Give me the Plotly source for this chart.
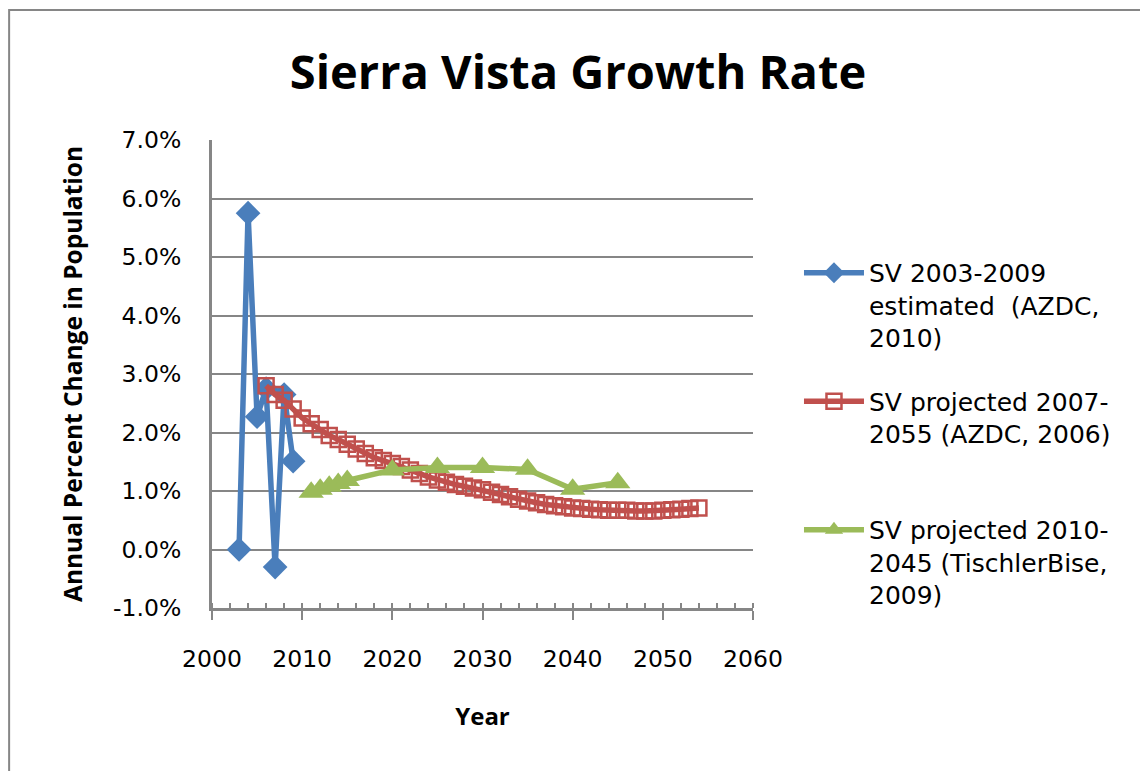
import plotly.graph_objects as go

# data (annual percent change, %)
est_years = [2003, 2004, 2005, 2006, 2007, 2008, 2009]
est_vals = [0.0, 5.75, 2.27, 2.75, -0.30, 2.65, 1.51]

azdc_years = list(range(2006, 2055))
azdc_vals = [
    2.80, 2.65, 2.55, 2.40, 2.25, 2.15, 2.05, 1.95, 1.88, 1.80,
    1.72, 1.64, 1.57, 1.52, 1.47, 1.42, 1.36, 1.30, 1.24, 1.19,
    1.15, 1.11, 1.08, 1.05, 1.02, 0.98, 0.94, 0.90, 0.86, 0.83,
    0.80, 0.77, 0.75, 0.73, 0.71, 0.70, 0.69, 0.68, 0.67, 0.67,
    0.67, 0.66, 0.66, 0.66, 0.67, 0.68, 0.69, 0.70, 0.71,
]

tb_years = [2011, 2012, 2013, 2014, 2015, 2020, 2025, 2030, 2035, 2040, 2045]
tb_vals = [0.98, 1.03, 1.08, 1.13, 1.18, 1.36, 1.40, 1.40, 1.37, 1.03, 1.14]

y_ticks = [-1, 0, 1, 2, 3, 4, 5, 6, 7]
y_labels = ["-1.0%", "0.0%", "1.0%", "2.0%", "3.0%", "4.0%", "5.0%", "6.0%", "7.0%"]

names = [
    "SV 2003-2009<br>estimated  (AZDC,<br>2010)",
    "SV projected 2007-<br>2055 (AZDC, 2006)<br> ",
    "SV projected 2010-<br>2045 (TischlerBise,<br>2009)",
]

FONT = "DejaVu Sans, sans-serif"
BOLD = "Open Sans, sans-serif"
GRAY = "#868686"

fig = go.Figure()

fig.add_trace(go.Scatter(
    x=est_years, y=est_vals, name=names[0], legendgroup="a", mode="lines+markers",
    line=dict(color="#4A7EBB", width=5.5),
    marker=dict(symbol="diamond", size=19, color="#4A7EBB"),
))
fig.add_trace(go.Scatter(
    x=azdc_years, y=azdc_vals, name=names[1], legendgroup="b", mode="lines+markers",
    line=dict(color="#C0504D", width=5.5),
    marker=dict(symbol="square-open", size=15, color="#C0504D", line=dict(width=2.5)),
))
fig.add_trace(go.Scatter(
    x=tb_years, y=tb_vals, name=names[2], legendgroup="c", mode="lines+markers",
    line=dict(color="#9BBB59", width=5.5),
    marker=dict(symbol="triangle-up", size=22, color="#9BBB59"),
))

fig.update_xaxes(
    range=[2000, 2060], tick0=2000, dtick=10,
    showgrid=False, zeroline=False,
    showline=True, linecolor=GRAY, linewidth=3,
    ticks="outside", ticklen=9, tickwidth=2, tickcolor=GRAY,
    minor=dict(dtick=2, ticks="inside", ticklen=5, tickwidth=2, tickcolor=GRAY, showgrid=False),
    ticklabelstandoff=19,
    tickfont=dict(family=FONT, size=23.5, color="black"),
    title=dict(text="<b>Year</b>", font=dict(family=BOLD, size=24, color="black"), standoff=36),
)
fig.update_yaxes(
    range=[-1, 7], tickvals=y_ticks, ticktext=y_labels,
    showgrid=True, gridcolor=GRAY, gridwidth=2, zeroline=False,
    showline=True, linecolor=GRAY, linewidth=3,
    ticks="", ticklabelstandoff=23,
    tickfont=dict(family=FONT, size=23.5, color="black"),
    title=dict(text="<b>Annual Percent Change in Population</b>",
               font=dict(family=BOLD, size=24.5, color="black"), standoff=24),
)

# outer chart border
fig.add_shape(
    type="rect", xref="paper", yref="paper",
    x0=-0.375, x1=1.8, y0=-0.4, y1=1.278,
    line=dict(color=GRAY, width=2), fillcolor="rgba(0,0,0,0)", layer="below",
)

fig.update_layout(
    width=1140, height=763,
    margin=dict(l=204, r=395, t=132, b=163),
    paper_bgcolor="white", plot_bgcolor="white",
    title=dict(text="<b>Sierra Vista Growth Rate</b>", x=0.5, xanchor="center",
               y=0.916, yanchor="middle",
               font=dict(family=BOLD, size=47, color="black")),
    legend=dict(
        x=1.085, y=0.765, xanchor="left", yanchor="top",
        font=dict(family=FONT, size=25, color="black"),
        valign="top", tracegroupgap=28, itemwidth=60,
        bgcolor="rgba(0,0,0,0)",
    ),
    showlegend=True,
)

fig.write_html("out.html")
